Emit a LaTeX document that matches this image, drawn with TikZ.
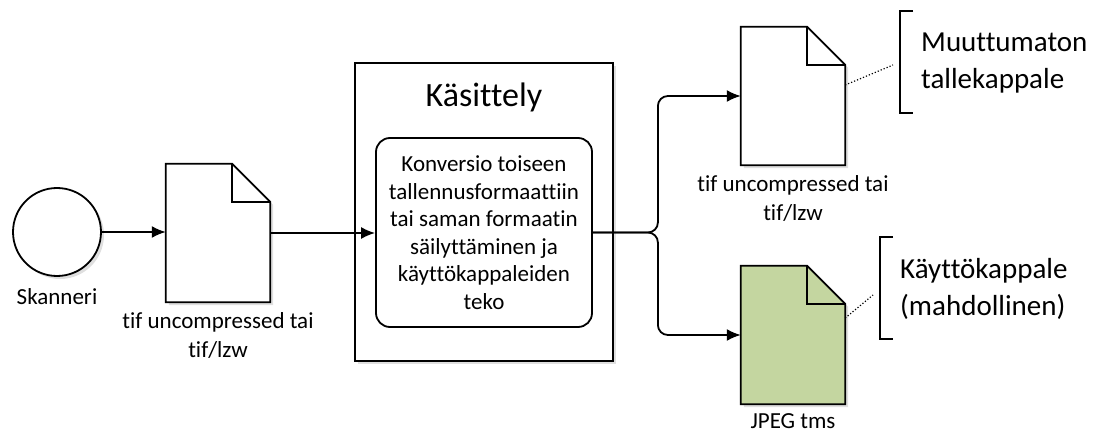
\documentclass[tikz,border=0pt]{standalone}
\usepackage{fontspec}
\setmainfont{Carlito}[Ligatures=NoCommon]
\usetikzlibrary{positioning}
\usetikzlibrary{arrows.meta}
\usetikzlibrary{shadows}
\definecolor{jpeggreen}{RGB}{196,214,160}
\tikzstyle{line}=[draw, line width=1.8pt, -{Latex[length=14pt,width=12pt]}]
\tikzstyle{doc}=[minimum width=104pt, minimum height=138pt, inner sep=0]
\tikzstyle{lbl}=[font=\fontsize{23}{29}\selectfont, align=center, inner sep=2pt]
\tikzstyle{note}=[font=\fontsize{29}{37}\selectfont, align=left, anchor=west, inner sep=2pt]
\tikzstyle{shade}=[drop shadow={opacity=0.25, shadow xshift=3pt, shadow yshift=-3pt}]

\begin{document}
\begin{tikzpicture}[x=1pt, y=-1pt]
\def \fold {38pt} % folded corner of a page
\useasboundingbox (0,0) rectangle (1096,433);

% scanner and the first page
\node[draw, circle, line width=1.8pt, minimum size=88pt, fill=white, shade] at (57,232) (scan) {};
\node[lbl, below=9pt of scan] (scanlbl) {Skanneri};

\node[doc] at (218,233) (doc1) {};
\node[doc] at (793,96) (doc2) {};
\node[doc] at (793,335) (doc3) {};
\foreach \d/\c in {doc1/white, doc2/white, doc3/jpeggreen}
{
  \draw[line width=1.8pt, fill=\c, shade] (\d.south west) -- (\d.north west)
    -- ([xshift=-\fold]\d.north east) -- ([yshift=-\fold]\d.north east)
    -- (\d.south east) -- cycle;
  \draw[line width=1.8pt] ([xshift=-\fold]\d.north east) |- ([yshift=-\fold]\d.north east);
}
\node[lbl, below=8pt of doc1] (doc1lbl) {tif uncompressed tai\\tif/lzw};
\node[lbl, below=8pt of doc2] (doc2lbl) {tif uncompressed tai\\tif/lzw};
\node[lbl, below=7pt of doc3] (doc3lbl) {JPEG tms};

% processing
\node[draw, line width=1.8pt, minimum width=258pt, minimum height=298pt, fill=white, shade] at (484,212) (proc) {};
\node[below=19pt of proc.north, font=\fontsize{34}{40}\selectfont, inner sep=2pt] (title) {Käsittely};
\node[draw, line width=1.8pt, rounded corners=14pt, minimum width=216pt, minimum height=189pt,
  align=center, font=\fontsize{23}{27.5}\selectfont] at (484,232.5) (conv)
  {Konversio toiseen\\tallennusformaattiin\\tai saman formaatin\\säilyttäminen ja\\käyttökappaleiden\\teko};

\draw[line] (scan) -- (scan -| doc1.west);
\draw[line] (doc1.east) -- (doc1.east -| conv.west);

\coordinate (split) at ([xshift=65pt]conv.east);
\draw[line, rounded corners=10pt] (conv.east) -- (split) |- (doc2.west);
\draw[line, rounded corners=10pt] (conv.east) -- (split) |- (doc3.west);

% notes
\coordinate (b1t) at (913,11);
\coordinate (b1b) at (913,113);
\draw[line width=1.8pt] (b1t) -- ++(-13,0) |- (b1b);
\node[note] at (919,63.5) (keep) {Muuttumaton\\tallekappale};
\coordinate (d1) at (893,65);
\draw[dotted, line width=1.2pt] ([yshift=11pt]doc2.east) -- (d1);

\coordinate (b2t) at (893,237);
\coordinate (b2b) at (893,339);
\draw[line width=1.8pt] (b2t) -- ++(-13,0) |- (b2b);
\node[note] at (898,289) (use) {Käyttökappale\\(mahdollinen)};
\coordinate (d2) at (873,295);
\draw[dotted, line width=1.2pt] ([yshift=17pt]doc3.east) -- (d2);
\end{tikzpicture}
\end{document}
